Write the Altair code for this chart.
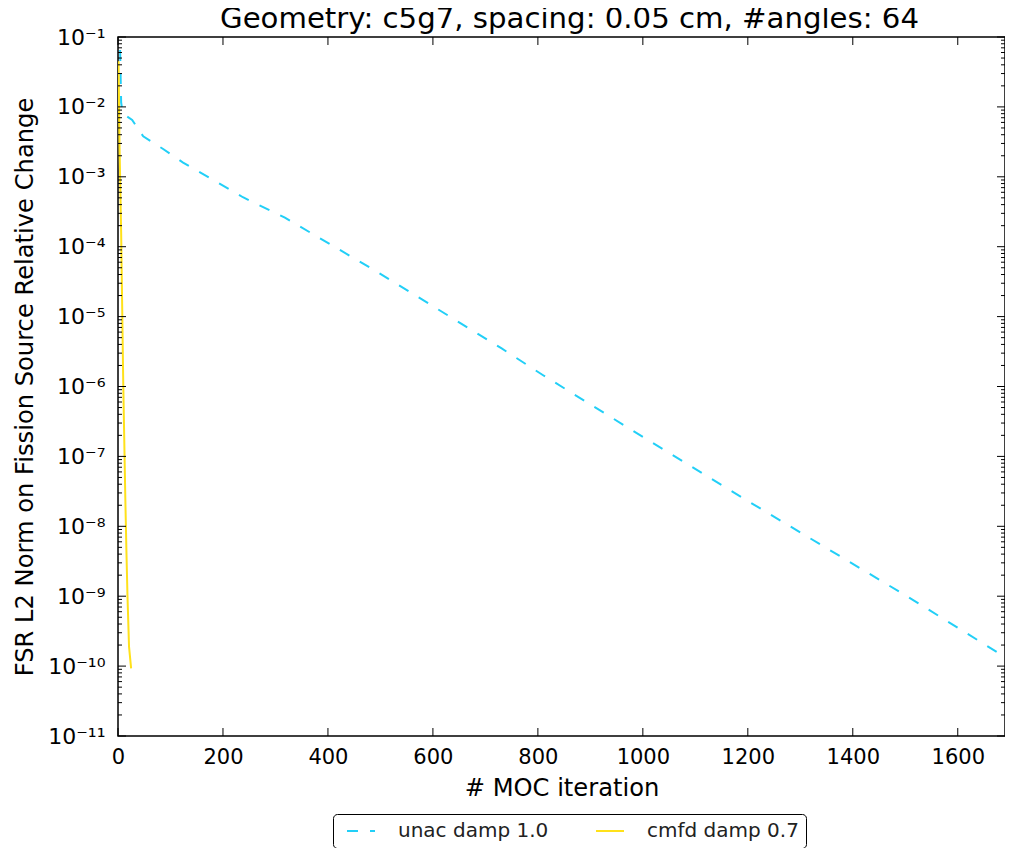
import altair as alt
import pandas as pd

# ---- data ----
unac_iter = [4, 6, 9, 16, 27, 48, 86, 124, 238, 318, 493, 731, 810, 1000, 1200, 1505, 1703]
unac_val = [6.5e-2, 1.15e-2, 8.1e-3, 7.4e-3, 6.5e-3, 3.8e-3, 2.5e-3, 1.6e-3, 5.1e-4,
            2.6e-4, 4.4e-5, 3.5e-6, 1.45e-6, 1.9e-7, 2.3e-8, 9.8e-10, 1.17e-10]

cmfd_iter = [1, 3, 6, 10, 14, 16, 18, 21, 25]
cmfd_val = [4.5e-2, 2.5e-3, 1.6e-4, 1.1e-6, 2.4e-8, 4.6e-9, 1.05e-9, 1.9e-10, 9.3e-11]

series_names = ["unac damp 1.0", "cmfd damp 0.7"]
series_colors = ["#22cff7", "#ffe11a"]
series_dash = [[11, 12], [1, 0]]

x_ticks = [0, 200, 400, 600, 800, 1000, 1200, 1400, 1600]
x_max = 1690
y_exps = [-1, -2, -3, -4, -5, -6, -7, -8, -9, -10, -11]
minor_mult = [2, 3, 4, 5, 6, 7, 8, 9]

title_text = "Geometry: c5g7, spacing: 0.05 cm, #angles: 64"
x_title = "# MOC iteration"
y_title = "FSR L2 Norm on Fission Source Relative Change"

# ---- build tables ----
df = pd.concat([
    pd.DataFrame({"iter": unac_iter, "val": unac_val, "series": series_names[0]}),
    pd.DataFrame({"iter": cmfd_iter, "val": cmfd_val, "series": series_names[1]}),
])

y_major = [10.0 ** e for e in y_exps]
y_minor = [m * 10.0 ** e for e in range(-11, -1) for m in minor_mult]

W, H = 887, 699
FONT = "DejaVu Sans"

SUP = {"-": "\u207b", "0": "\u2070", "1": "\u00b9", "2": "\u00b2", "3": "\u00b3",
       "4": "\u2074", "5": "\u2075", "6": "\u2076", "7": "\u2077", "8": "\u2078", "9": "\u2079"}


def sup(n):
    return "".join(SUP[c] for c in str(n))


e_expr = "round(log(datum.value)/LN10)"
label_expr = "".join(f"{e_expr} == {ex} ? '10{sup(ex)}' : " for ex in y_exps) + "''"

xscale = alt.Scale(domain=[0, x_max], nice=False, zero=False)
yscale = alt.Scale(type="log", domain=[1e-11, 1e-1], nice=False)

x_axis = alt.Axis(values=x_ticks, format="d", ticks=False, domain=False, grid=False,
                  labelFontSize=21, labelFont=FONT, labelColor="black", labelPadding=10,
                  titleFontSize=24.2, titleFont=FONT, titleFontWeight="normal",
                  titleColor="black", titlePadding=9, labelFlush=False)
y_axis = alt.Axis(values=y_major, labelExpr=label_expr, ticks=False, domain=False,
                  grid=False, labelFontSize=22, labelFont=FONT, labelColor="black",
                  labelPadding=13, titleFontSize=24.2, titleFont=FONT,
                  titleFontWeight="normal", titleColor="black", titlePadding=10,
                  labelFlush=False)

legend = alt.Legend(
    orient="none", legendX=215, legendY=777, direction="horizontal", title=None,
    symbolType="stroke", symbolSize=784, symbolStrokeWidth=2, symbolOffset=6,
    labelFontSize=20, labelFont=FONT, labelColor="#222222",
    strokeColor="black", fillColor="white", padding=7, cornerRadius=4,
    columnPadding=40, labelOffset=22, clipHeight=20,
)

lines = alt.Chart(df).mark_line(strokeWidth=2, clip=True).encode(
    x=alt.X("iter:Q", scale=xscale, title=x_title, axis=x_axis),
    y=alt.Y("val:Q", scale=yscale, title=y_title, axis=y_axis),
    color=alt.Color("series:N", scale=alt.Scale(domain=series_names, range=series_colors),
                    legend=legend),
    strokeDash=alt.StrokeDash("series:N", scale=alt.Scale(domain=series_names, range=series_dash),
                              legend=legend),
    order=alt.Order("iter:Q"),
)


def yrules(vals, x0, x1):
    return alt.Chart(pd.DataFrame({"val": vals})).mark_rule(color="black", strokeWidth=1).encode(
        y=alt.Y("val:Q", scale=yscale, title=y_title, axis=y_axis),
        x=alt.value(x0), x2=alt.value(x1))


def xrules(vals, y0, y1):
    return alt.Chart(pd.DataFrame({"iter": vals})).mark_rule(color="black", strokeWidth=1).encode(
        x=alt.X("iter:Q", scale=xscale, title=x_title, axis=x_axis),
        y=alt.value(y0), y2=alt.value(y1))


ticks = [
    yrules(y_major, 0, 8), yrules(y_major, W, W - 8),
    yrules(y_minor, 0, 4), yrules(y_minor, W, W - 4),
    xrules(x_ticks, H, H - 8), xrules(x_ticks, 0, 8),
]

chart = alt.layer(lines, *ticks).properties(
    width=W, height=H,
    title=alt.Title(title_text, fontSize=29.2, font=FONT, fontWeight="normal", color="black",
                    anchor="middle", offset=3, frame="group", dy=11, dx=8),
    autosize=alt.AutoSizeParams(type="none"),
    padding={"left": 110, "top": 29, "right": 0, "bottom": 112},
).configure(background="white").configure_view(stroke="black", strokeWidth=1.5)

chart.save("out.html", embed_options={"renderer": "svg", "actions": False})
